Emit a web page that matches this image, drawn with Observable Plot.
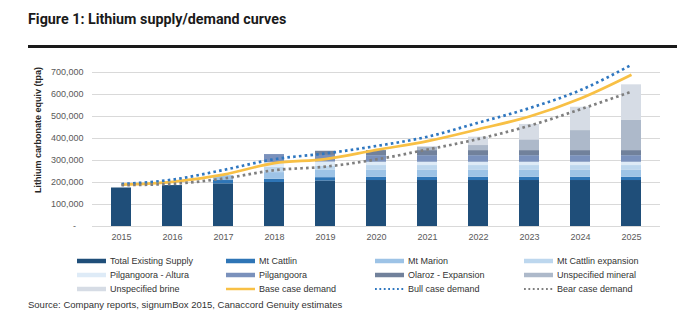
<!DOCTYPE html>
<html><head><meta charset="utf-8">
<script src="https://cdn.jsdelivr.net/npm/d3@7"></script>
<script src="https://cdn.jsdelivr.net/npm/@observablehq/plot@0.6"></script>
<style>
body{margin:0;background:#fff;width:677px;height:327px;position:relative;overflow:hidden;font-family:"Liberation Sans",Arial,sans-serif;}
#title{position:absolute;left:28px;top:11px;font:bold 14.3px Roboto,sans-serif;color:#1a1a1a;}
#rule{position:absolute;left:28px;top:45px;width:649px;height:3px;background:#1a1a1a;}
#chart{position:absolute;left:0;top:52px;}
#ylabel{position:absolute;left:38px;top:130px;transform:translate(-50%,-50%) rotate(-90deg);font-weight:bold;font-size:9px;color:#262626;white-space:nowrap}
#legend{position:absolute;left:77px;top:254px;display:grid;grid-template-columns:repeat(4,149px);grid-auto-rows:14px;font-size:9px;color:#333;}
.item{display:flex;align-items:center;white-space:nowrap}
.item svg{margin-right:4px;flex:none}
#source{position:absolute;left:28px;top:299px;font-size:9.5px;color:#333}
</style>
</head><body>
<div id="title">Figure 1: Lithium supply/demand curves</div>
<div id="rule"></div>
<div id="chart"></div>
<div id="ylabel">Lithium carbonate equiv (tpa)</div>
<div id="legend"></div>
<div id="source">Source: Company reports, signumBox 2015, Canaccord Genuity estimates</div>
<script>
const years = ["2015","2016","2017","2018","2019","2020","2021","2022","2023","2024","2025"];

// supply segments (tonnes LCE)
const totalExistingSupply = [175000,186000,194000,200000,207000,209000,209000,209000,209000,209000,209000];
const mtCattlin           = [0,0,15000,15000,15000,15000,15000,15000,15000,15000,15000];
const mtMarion            = [0,0,22000,30000,33000,33000,33000,33000,33000,33000,33000];
const mtCattlinExpansion  = [0,0,0,25000,20000,20000,20000,20000,20000,20000,20000];
const pilgangooraAltura   = [0,0,0,20000,18000,15000,15000,15000,15000,15000,15000];
const pilgangoora         = [0,0,0,37000,30000,30000,30000,30000,30000,30000,30000];
const olarozExpansion     = [0,0,0,0,19000,23000,23000,23000,23000,23000,23000];
const unspecifiedMineral  = [0,0,0,0,0,0,16000,23000,49000,91000,137000];
const unspecifiedBrine    = [0,0,0,0,0,0,0,38000,70000,106000,162000];

// demand curves
const baseCase = [190000,203000,236000,288000,306000,348000,388000,442000,500000,582000,690000];
const bullCase = [193000,213000,257000,306000,332000,366000,408000,472000,538000,620000,735000];
const bearCase = [188000,194000,218000,256000,272000,305000,350000,398000,458000,533000,613000];

const yTicks = [0,100000,200000,300000,400000,500000,600000,700000];

const supplyNames = ["Total Existing Supply","Mt Cattlin","Mt Marion","Mt Cattlin expansion","Pilgangoora - Altura","Pilgangoora","Olaroz - Expansion","Unspecified mineral","Unspecified brine"];
const supplyValues = [totalExistingSupply,mtCattlin,mtMarion,mtCattlinExpansion,pilgangooraAltura,pilgangoora,olarozExpansion,unspecifiedMineral,unspecifiedBrine];
const supplyColors = ["#1f4e79","#2e75b6","#9dc3e6","#bdd7ee","#deebf7","#7a91bc","#71819b","#adb9ca","#d6dce5"];

const demandNames = ["Base case demand","Bull case demand","Bear case demand"];
const demandValues = [baseCase,bullCase,bearCase];
const demandColors = ["#f8c045","#2f77c0","#7f7f7f"];
const demandDash = [null,"2.6,3.2","2.6,3.2"];

const bars = [];
supplyNames.forEach((s,i)=>years.forEach((y,j)=>bars.push({year:y,series:s,value:supplyValues[i][j]})));

const marks = [
  Plot.gridY(yTicks,{stroke:"#d9d9d9",strokeOpacity:1,strokeWidth:1}),
  Plot.barY(bars,{x:"year",y:"value",fill:"series"}),
];
demandNames.forEach((s,i)=>{
  const d = years.map((y,j)=>({year:y,value:demandValues[i][j]}));
  marks.push(Plot.line(d,{x:"year",y:"value",stroke:demandColors[i],strokeWidth:2.7,strokeDasharray:demandDash[i],strokeLinecap:"butt",curve:"monotone-x"}));
});
marks.push(Plot.axisY({ticks:yTicks,tickSize:0,tickPadding:9,label:null,fontSize:9,
  tickFormat:d=>d===0?"-\u00a0\u00a0\u00a0":d3.format(",")(d)}));
marks.push(Plot.axisX({tickSize:0,tickPadding:7,label:null,fontSize:9}));

const chart = Plot.plot({
  width:677,height:200,
  marginTop:20,marginBottom:26,marginLeft:92,marginRight:17,
  style:{fontFamily:"'Liberation Sans',Arial,sans-serif",color:"#595959",background:"white"},
  x:{type:"band",domain:years,paddingInner:0.6,paddingOuter:0.3,label:null},
  y:{domain:[0,700000],label:null},
  color:{domain:supplyNames,range:supplyColors},
  marks
});
document.getElementById("chart").appendChild(chart);

// legend
const legendItems = [];
supplyNames.forEach((s,i)=>legendItems.push({name:s,color:supplyColors[i],w:4.5,dash:null}));
demandNames.forEach((s,i)=>legendItems.push({name:s,color:demandColors[i],w:i===0?2.5:2.2,dash:demandDash[i]}));
const leg = d3.select("#legend");
legendItems.forEach(it=>{
  const div = leg.append("div").attr("class","item");
  const sv = div.append("svg").attr("width",29).attr("height",8);
  sv.append("line").attr("x1",0).attr("x2",29).attr("y1",4).attr("y2",4)
    .attr("stroke",it.color).attr("stroke-width",it.w)
    .attr("stroke-dasharray",it.dash?"1.8,2.6":null);
  div.append("span").text(it.name);
});
</script>
</body></html>
